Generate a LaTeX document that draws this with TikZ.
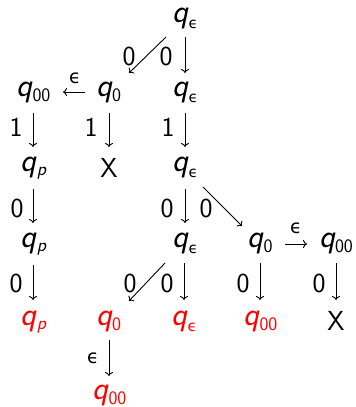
\documentclass[tikz,border=0pt]{standalone}
\usepackage{fontspec}
\newfontfamily\dvs{DejaVu Sans}
\usetikzlibrary{arrows.meta,calc}
\newcommand{\qq}{{\fontsize{33}{40}\selectfont\slshape q}}
\newcommand{\sub}[1]{\raisebox{-5pt}{\fontsize{19}{22}\selectfont #1}}
\newcommand{\Qs}[1]{\qq\sub{#1}}
\newcommand{\Qp}{\qq\raisebox{-4pt}{\fontsize{19}{22}\selectfont\slshape p}}
\newcommand{\eps}[1]{{\dvs\fontsize{#1}{#1}\selectfont ϵ}}
\newcommand{\Qe}{\qq\kern0.5pt\raisebox{-6pt}{\eps{15}}}
\definecolor{stred}{RGB}{255,0,0}
\tikzset{
  st/.style={inner sep=0pt, anchor=base, font=\sffamily\fontsize{27.5}{33}\selectfont},
  redst/.style={st, text=stred},
  lab/.style={inner sep=0pt, anchor=base, font=\sffamily\fontsize{27.5}{33}\selectfont},
  elab/.style={inner sep=0pt, anchor=base},
  arr/.style={line width=0.9pt, -{Computer Modern Rightarrow[length=4pt,width=8pt]}}
}
\begin{document}
\begin{tikzpicture}[x=1pt,y=-1pt]
\useasboundingbox (0,0) rectangle (356,407);
% states
\node[st] (T) at (185,22) {\Qe};
\node[st] (A) at (33.5,96) {\Qs{00}};
\node[st] (B) at (108.5,96) {\Qs{0}};
\node[st] (C) at (185,96) {\Qe};
\node[st] (D) at (33.5,171) {\Qp};
\node[st] (E) at (109,177) {X};
\node[st] (F) at (185,171) {\Qe};
\node[st] (G) at (33.5,247) {\Qp};
\node[st] (H) at (185,247) {\Qe};
\node[st] (I) at (260,247) {\Qs{0}};
\node[st] (J) at (336,247) {\Qs{00}};
\node[redst] (K) at (33.5,325) {\Qp};
\node[redst] (L) at (108.5,325) {\Qs{0}};
\node[redst] (M) at (184,325) {\Qe};
\node[redst] (N) at (260.5,325) {\Qs{00}};
\node[st] (O) at (336,330) {X};
\node[redst] (P) at (109.5,399) {\Qs{00}};
% labels
\node[lab] (l1) at (129,65) {0};
\node[lab] (l2) at (166,65) {0};
\node[elab] (l3) at (75,83) {\eps{19}};
\node[lab] (l4) at (16,136) {1};
\node[lab] (l5) at (91,136) {1};
\node[lab] (l6) at (168,136) {1};
\node[lab] (l7) at (17,217) {0};
\node[lab] (l8) at (167,217) {0};
\node[lab] (l9) at (206,217) {0};
\node[elab] (l10) at (296,233) {\eps{19}};
\node[lab] (l11) at (16,292) {0};
\node[lab] (l12) at (130,292) {0};
\node[lab] (l13) at (167,292) {0};
\node[lab] (l14) at (243,292) {0};
\node[lab] (l15) at (319,292) {0};
\node[elab] (l16) at (93,363) {\eps{19}};
% arrows
\draw[arr] ($(T.base)+(0,15)$) -- ($(C.base)+(0,-23)$);
\draw[arr] ($(T.base)+(-19,15)$) -- ($(B.base)+(20.5,-23)$);
\draw[arr] ($(B.base)+(-23.5,-4)$) -- ($(A.base)+(29.5,-4)$);
\draw[arr] ($(A.base)+(-0.5,17)$) -- ($(D.base)+(-0.5,-24)$);
\draw[arr] ($(B.base)+(0.5,17)$) -- ($(E.base)+(0,-30)$);
\draw[arr] ($(C.base)+(0,17)$) -- ($(F.base)+(0,-24)$);
\draw[arr] ($(D.base)+(-0.5,18)$) -- ($(G.base)+(-0.5,-24)$);
\draw[arr] ($(F.base)+(0,18)$) -- ($(H.base)+(0,-24)$);
\draw[arr] ($(F.base)+(18,16)$) -- ($(I.base)+(-18,-21)$);
\draw[arr] ($(I.base)+(25,-3)$) -- ($(J.base)+(-29,-3)$);
\draw[arr] ($(G.base)+(-0.5,18)$) -- ($(K.base)+(-0.5,-25)$);
\draw[arr] ($(H.base)+(-20,16)$) -- ($(L.base)+(20.5,-24)$);
\draw[arr] ($(H.base)+(-1,16)$) -- ($(M.base)+(0,-25)$);
\draw[arr] ($(I.base)+(0,16)$) -- ($(N.base)+(-0.5,-25)$);
\draw[arr] ($(J.base)+(0,16)$) -- ($(O.base)+(0,-30)$);
\draw[arr] ($(L.base)+(0.5,15)$) -- ($(P.base)+(-0.5,-23)$);
\end{tikzpicture}
\end{document}
